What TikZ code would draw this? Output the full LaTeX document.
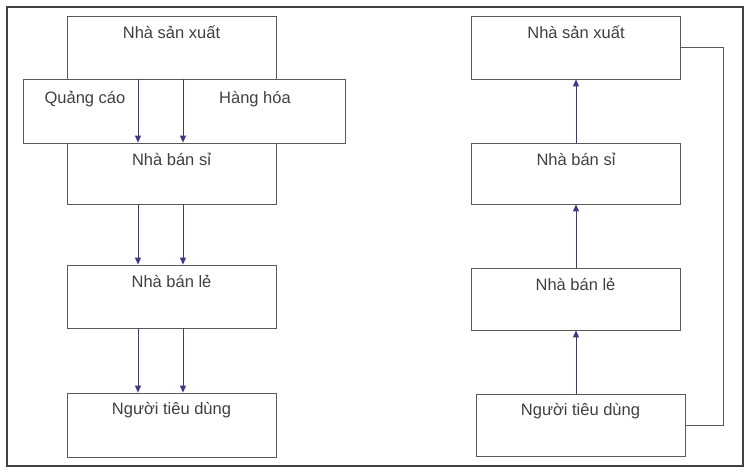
\documentclass[tikz,border=0pt]{standalone}
\usepackage{fontspec}
\setmainfont{Liberation Sans}
\usetikzlibrary{arrows.meta}
\definecolor{arrc}{HTML}{3A3A88}
\begin{document}
\begin{tikzpicture}[x=1pt,y=-1pt,
  box/.style={draw=black!65,line width=0.8pt,fill=white,rectangle,minimum width=209pt,minimum height=63pt,inner sep=0pt,
    label={[font=\fontsize{16.5}{19}\selectfont,text=black!75,anchor=north,inner sep=0pt,yshift=-10pt]north:#1}},
  arr/.style={draw=arrc,line width=0.9pt,-{Triangle[length=7pt,width=6pt]}},
  ln/.style={draw=black!65,line width=0.8pt},
  txt/.style={font=\fontsize{16.5}{19}\selectfont,text=black!75,inner sep=0pt}]
\useasboundingbox (0,0) rectangle (750,474);
\draw[black!75,line width=1.2pt] (7,7) rectangle (743,466);
% left column
\node[box={Nhà sản xuất}] (ltop) at (171.5,47.5) {};
\node[box={},minimum width=322pt,minimum height=64pt] (wide) at (184,111) {};
\node[txt] (qc) at (85,99) {Quảng cáo};
\node[txt] (hh) at (255,99) {Hàng hóa};
\node[box={Nhà bán sỉ},minimum height=61pt] (lsi) at (171.5,173.5) {};
\node[box={Nhà bán lẻ}] (lle) at (171.5,296.5) {};
\node[box={Người tiêu dùng},minimum height=64pt] (lng) at (171.5,425) {};
\coordinate (xa) at (138,0);
\coordinate (xb) at (183,0);
\draw[arr] (xa |- wide.north) -- (xa |- lsi.north);
\draw[arr] (xb |- wide.north) -- (xb |- lsi.north);
\draw[arr] (xa |- lsi.south) -- (xa |- lle.north);
\draw[arr] (xb |- lsi.south) -- (xb |- lle.north);
\draw[arr] (xa |- lle.south) -- (xa |- lng.north);
\draw[arr] (xb |- lle.south) -- (xb |- lng.north);
% right column
\node[box={Nhà sản xuất}] (rtop) at (576,47.5) {};
\node[box={Nhà bán sỉ},minimum height=61pt] (rsi) at (576,173.5) {};
\node[box={Nhà bán lẻ},minimum height=62pt] (rle) at (575.5,299) {};
\node[box={Người tiêu dùng},minimum height=62pt] (rng) at (580.5,425) {};
\coordinate (xc) at (576,0);
\coordinate (fb) at (723,0);
\draw[arr] (xc |- rng.north) -- (xc |- rle.south);
\draw[arr] (xc |- rle.north) -- (xc |- rsi.south);
\draw[arr] (xc |- rsi.north) -- (xc |- rtop.south);
\draw[ln] (rtop.east) -- (fb |- rtop.east) -- (fb |- rng.east) -- (rng.east);
\end{tikzpicture}
\end{document}
